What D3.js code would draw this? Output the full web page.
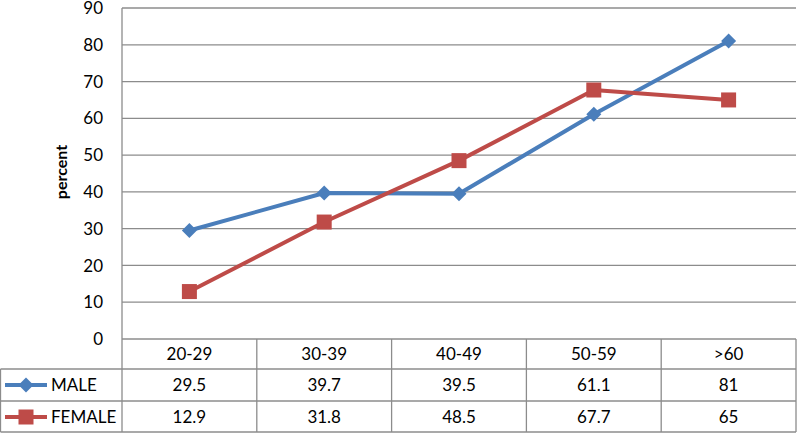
<!DOCTYPE html>
<html><head><meta charset="utf-8">
<script src="https://cdn.jsdelivr.net/npm/d3@7"></script>
<style>body{margin:0;background:#fff}svg{display:block}</style>
</head><body>
<svg id="c" width="798" height="434"></svg>
<script>
const categories = ["20-29","30-39","40-49","50-59",">60"];
const male = [29.5,39.7,39.5,61.1,81];
const female = [12.9,31.8,48.5,67.7,65];
const yTicks = [0,10,20,30,40,50,60,70,80,90];
const seriesNames = ["MALE","FEMALE"];

const svg = d3.select("#c");
const font = "Lato, 'Open Sans', sans-serif";
const fs = 17;
const L = 122, R = 796, T = 8, B = 339;
const rowH = [30, 32, 32];
const x = d3.scaleBand().domain(categories).range([L, R]);
const y = d3.scaleLinear().domain([0, 90]).range([B, T]);
const grid = "#8c8c8c";
const blue = "#4A7EBB", red = "#BE4B48";

// gridlines
svg.append("g").selectAll("line").data(yTicks).join("line")
  .attr("x1", L).attr("x2", R).attr("y1", d => y(d)).attr("y2", d => y(d))
  .attr("stroke", grid).attr("stroke-width", 1.3);
svg.append("line").attr("x1", L).attr("x2", L).attr("y1", T).attr("y2", B)
  .attr("stroke", grid).attr("stroke-width", 1.3);

// y tick labels
svg.append("g").selectAll("text").data(yTicks).join("text")
  .attr("x", 103).attr("y", d => y(d)).attr("dy", "0.36em")
  .attr("text-anchor", "end").attr("font-family", font).attr("font-size", fs)
  .attr("fill", "#000").text(d => d);

svg.append("text").attr("transform", `translate(67,172) rotate(-90)`)
  .attr("text-anchor", "middle").attr("font-family", font).attr("font-size", 16)
  .attr("font-weight", "bold").text("percent");

// table
const t0 = B, t1 = B + rowH[0], t2 = t1 + rowH[1], t3 = t2 + rowH[2];
const tg = svg.append("g").attr("stroke", grid).attr("stroke-width", 1.3);
[t1, t2, t3 - 1].forEach(yy => tg.append("line").attr("x1", 0.5).attr("x2", R).attr("y1", yy).attr("y2", yy));
tg.append("line").attr("x1", 0.5).attr("x2", 0.5).attr("y1", t1).attr("y2", t3 - 1);
const cols = categories.map(c => x(c)).concat([R]);
cols.forEach(cx => tg.append("line").attr("x1", cx).attr("x2", cx).attr("y1", t0).attr("y2", t3 - 1));

const cellText = (txt, cx, cy) => svg.append("text").attr("x", cx).attr("y", cy).attr("dy", "0.36em")
  .attr("text-anchor", "middle").attr("font-family", font).attr("font-size", fs).text(txt);
categories.forEach((c, i) => {
  const cx = x(c) + x.bandwidth() / 2;
  cellText(c, cx, (t0 + t1) / 2);
  cellText(male[i], cx, (t1 + t2) / 2);
  cellText(female[i], cx, (t2 + t3) / 2);
});

// markers
function diamond(g, cx, cy, color) {
  g.append("path").attr("d", `M${cx},${cy-7.5}L${cx+7.5},${cy}L${cx},${cy+7.5}L${cx-7.5},${cy}Z`).attr("fill", color);
}
function square(g, cx, cy, color) {
  g.append("rect").attr("x", cx - 7.5).attr("y", cy - 7.5).attr("width", 15).attr("height", 15).attr("fill", color);
}

// legend in table
[[seriesNames[0], blue, diamond, (t1 + t2) / 2], [seriesNames[1], red, square, (t2 + t3) / 2]].forEach(([nm, col, mk, cy]) => {
  const g = svg.append("g");
  g.append("line").attr("x1", 5).attr("x2", 47).attr("y1", cy).attr("y2", cy).attr("stroke", col).attr("stroke-width", 4);
  mk(g, 26, cy, col);
  g.append("text").attr("x", 51).attr("y", cy).attr("dy", "0.36em").attr("font-family", font)
    .attr("font-size", fs).text(nm);
});

// lines
const line = d3.line().x((d, i) => x(categories[i]) + x.bandwidth() / 2).y(d => y(d));
[[male, blue, diamond], [female, red, square]].forEach(([data, col, mk]) => {
  const g = svg.append("g");
  g.append("path").attr("d", line(data)).attr("fill", "none").attr("stroke", col).attr("stroke-width", 4)
    .attr("stroke-linejoin", "round");
  data.forEach((d, i) => mk(g, x(categories[i]) + x.bandwidth() / 2, y(d), col));
});
</script>
</body></html>
